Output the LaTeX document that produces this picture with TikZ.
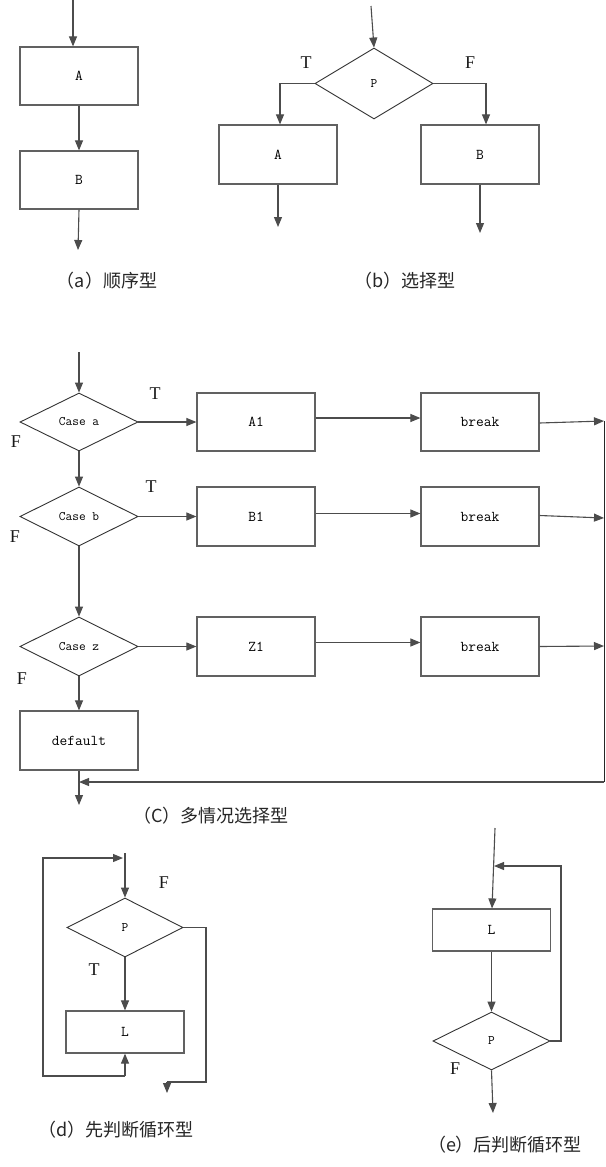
\documentclass[tikz,border=0pt]{standalone}
\usepackage{fontspec}
\setmainfont{Liberation Serif}
\newfontfamily\cjk{Noto Sans CJK SC}
\usetikzlibrary{shapes.geometric,arrows.meta}
\begin{document}
\begin{tikzpicture}[x=1pt,y=-1pt,
  box/.style={draw=black!62,line width=1.2pt,minimum width=118pt,minimum height=58pt,inner sep=0pt,text=black,font=\ttfamily\fontsize{15}{15}\selectfont},
  dia/.style={draw=black!80,line width=0.9pt,diamond,aspect=2,minimum width=118pt,minimum height=58pt,inner sep=0pt,text=black,font=\ttfamily\fontsize{13}{13}\selectfont},
  arr/.style={draw=black!70,line width=1.1pt,-{Triangle[length=10pt,width=8pt]}},
  ln/.style={draw=black!70,line width=1.1pt},
  tf/.style={font=\fontsize{18}{18}\selectfont,text=black!90},
  captxt/.style={font=\cjk\fontsize{18}{18}\selectfont,text=black!85}
]
\useasboundingbox[fill=white] (0,0) rectangle (605,1167);

% ---------- (a) ----------
\node[box] (aA) at (79,76) {A};
\node[box] (aB) at (79,180) {B};
\coordinate (ain) at (73,0);
\coordinate (aout) at (78,250);
\draw[arr] (ain) -- (ain |- aA.north);
\draw[arr] (aA.south) -- (aB.north);
\draw[arr] (aB.south) -- (aout);
\node[captxt] (capa) at (107,281) {（a）顺序型};

% ---------- (b) ----------
\node[dia,minimum height=71pt] (bp) at (374,83.5) {P};
\node[box,minimum height=59pt] (bA) at (278,154.5) {A};
\node[box,minimum height=59pt] (bB) at (480,154.5) {B};
\coordinate (bin) at (371,6);
\coordinate (bAo) at (278,227);
\coordinate (bBo) at (480,233);
\draw[arr] (bin) -- (bp.north);
\draw[arr] (bp.west) -| ([xshift=2pt]bA.north);
\draw[arr] (bp.east) -| ([xshift=6pt]bB.north);
\draw[arr] (bA.south) -- (bAo);
\draw[arr] (bB.south) -- (bBo);
\node[tf] (bT) at (306,63) {T};
\node[tf] (bF) at (470,63) {F};
\node[captxt] (capb) at (405,281) {（b）选择型};

% ---------- (c) ----------
\node[dia] (ca) at (79,422) {Case a};
\node[box] (a1) at (256,422) {A1};
\node[box] (k1) at (480,422) {break};
\node[dia,minimum height=59pt] (cb) at (79,516.5) {Case b};
\node[box,minimum height=59pt] (b1) at (256,516.5) {B1};
\node[box,minimum height=59pt] (k2) at (480,516.5) {break};
\node[dia,minimum height=59pt] (cz) at (79,646.5) {Case z};
\node[box,minimum height=59pt] (z1) at (256,646.5) {Z1};
\node[box,minimum height=59pt] (k3) at (480,646.5) {break};
\node[box,minimum height=59pt] (def) at (79,740.5) {default};
\coordinate (cin) at (79,352);
\coordinate (r1) at (604,421);
\coordinate (r2) at (604,518);
\coordinate (r3) at (604,646);
\coordinate (rb) at (604,782);
\coordinate (cout) at (79,805);
\draw[arr] (cin) -- (ca.north);
\draw[arr] (ca.south) -- (cb.north);
\draw[arr] (cb.south) -- (cz.north);
\draw[arr] (cz.south) -- (def.north);
\draw[arr] (ca.east) -- (a1.west);
\draw[arr] (cb.east) -- (b1.west);
\draw[arr] (cz.east) -- (z1.west);
\draw[arr] ([yshift=4pt]a1.east) -- ([yshift=4pt]k1.west);
\draw[arr] ([yshift=3pt]b1.east) -- ([yshift=3pt]k2.west);
\draw[arr] ([yshift=4pt]z1.east) -- ([yshift=4pt]k3.west);
\draw[arr] ([yshift=-1pt]k1.east) -- (r1);
\draw[arr] ([yshift=1pt]k2.east) -- (r2);
\draw[arr] (k3.east) -- (r3);
\draw[ln,draw=black!85,line width=0.9pt] (r1) -- (rb);
\draw[arr] (rb) -- (def.south |- rb);
\draw[arr] (def.south) -- (cout);
\node[tf] (cT1) at (155,394) {T};
\node[tf] (cT2) at (151,487) {T};
\node[tf] (cF1) at (16,442) {F};
\node[tf] (cF2) at (15,537) {F};
\node[tf] (cF3) at (22,679) {F};
\node[captxt] (capc) at (211,816) {（C）多情况选择型};

% ---------- (d) ----------
\node[dia,minimum width=116pt,minimum height=59pt] (dp) at (125,927.5) {P};
\node[box,minimum height=42pt] (dl) at (125,1032) {L};
\coordinate (din) at (125,853);
\coordinate (dlb) at (125,1076);
\coordinate (dc1) at (43,1076);
\coordinate (dc2) at (43,858);
\coordinate (dtop) at (123,858);
\coordinate (dr1) at (206,927.5);
\coordinate (dr2) at (206,1082);
\coordinate (dr3) at (167,1082);
\coordinate (dout) at (167,1093);
\draw[arr] (din) -- (dp.north);
\draw[arr] (dp.south) -- (dl.north);
\draw[arr] (dlb) -- (dl.south);
\draw[arr] (dlb) -- (dc1) -- (dc2) -- (dtop);
\draw[ln] (dp.east) -- (dr1) -- (dr2) -- (dr3);
\draw[arr] (dr3) -- (dout);
\node[tf] (dF) at (164,883) {F};
\node[tf] (dT) at (94,970) {T};
\node[captxt] (capd) at (116,1130) {（d）先判断循环型};

% ---------- (e) ----------
\node[box,minimum height=42pt] (el) at (491.5,930) {L};
\node[dia,minimum width=117pt,minimum height=58pt] (ep) at (491.5,1041) {P};
\coordinate (ein) at (495,828);
\coordinate (er1) at (561,1041);
\coordinate (er2) at (561,866);
\coordinate (er3) at (494,866);
\coordinate (eout) at (493,1113);
\draw[arr] (ein) -- ([xshift=0.5pt]el.north);
\draw[arr] (el.south) -- (ep.north);
\draw[arr] (ep.east) -- (er1) -- (er2) -- (er3);
\draw[arr] (ep.south) -- (eout);
\node[tf] (eF) at (455,1069) {F};
\node[captxt] (cape) at (505,1145) {（e）后判断循环型};
\end{tikzpicture}
\end{document}
